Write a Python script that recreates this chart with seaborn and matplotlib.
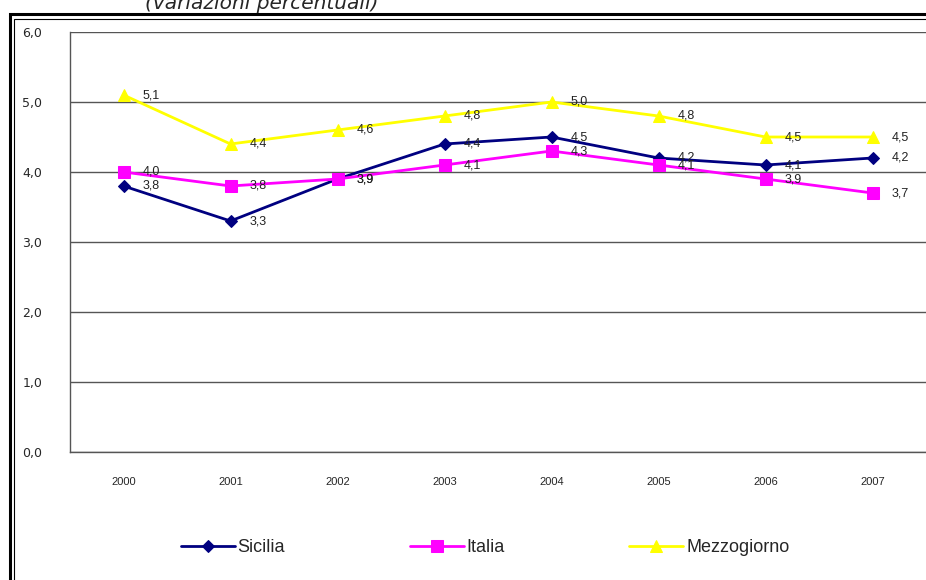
import pandas as pd
import matplotlib
matplotlib.use("Agg")
import matplotlib.pyplot as plt
from matplotlib.patches import Rectangle
import seaborn as sns

# Data
years = ["2000", "2001", "2002", "2003", "2004", "2005", "2006", "2007"]
sicilia = [3.8, 3.3, 3.9, 4.4, 4.5, 4.2, 4.1, 4.2]
italia = [4.0, 3.8, 3.9, 4.1, 4.3, 4.1, 3.9, 3.7]
mezzogiorno = [5.1, 4.4, 4.6, 4.8, 5.0, 4.8, 4.5, 4.5]

series = [
    ("Sicilia", sicilia, "#000080", "D", 6),
    ("Italia", italia, "#FF00FF", "s", 8),
    ("Mezzogiorno", mezzogiorno, "#FFFF00", "^", 8),
]

sns.set_style("white")
plt.rcParams["font.family"] = ["Liberation Sans", "DejaVu Sans"]

W, H = 926, 580
fig = plt.figure(figsize=(W / 100, H / 100), dpi=100)
ax = fig.add_axes([70 / W, 1 - 452 / H, 1 - 70 / W, (452 - 32) / H])

idx = list(range(len(years)))
for name, vals, col, mk, ms in series:
    df = pd.DataFrame({"x": idx, "y": vals})
    sns.lineplot(data=df, x="x", y="y", ax=ax, color=col, marker=mk,
                 markersize=ms, markeredgecolor=col, linewidth=2, label=name)
    for x, v in zip(idx, vals):
        ax.annotate(f"{v:.1f}".replace(".", ","), (x, v), xytext=(14, 0),
                    textcoords="offset points", va="center", ha="left",
                    fontsize=9, color="#222222")

ax.set_xlim(-0.5, 7.5)
ax.set_ylim(0, 6)
ax.set_yticks(range(7))
ax.set_yticklabels([f"{v:.1f}".replace(".", ",") for v in range(7)], fontsize=9,
                   family=["DejaVu Sans"])
ax.set_xticks(idx)
ax.set_xticklabels(years, fontsize=8)
ax.set_xticks([i - 0.5 for i in range(9)], minor=True)
ax.tick_params(axis="x", which="major", length=0, pad=18)
ax.tick_params(axis="x", which="minor", length=5, color="#aaaaaa", direction="out")
ax.tick_params(axis="y", length=7, color="#555555", direction="out", pad=13)
ax.set_xlabel("")
ax.set_ylabel("")
ax.yaxis.grid(True, color="#555555", linewidth=1)
ax.set_axisbelow(True)
for s in ["top", "right"]:
    ax.spines[s].set_visible(False)
for s in ["left", "bottom"]:
    ax.spines[s].set_color("#555555")
    ax.spines[s].set_linewidth(1)

handles, labels = ax.get_legend_handles_labels()
ax.get_legend().remove()
fig.legend(handles, labels, loc="center", bbox_to_anchor=(485 / W, 1 - 548 / H),
           ncol=3, frameon=False, fontsize=13, handlelength=3,
           handletextpad=0.15, columnspacing=6.9)

# double frame around the chart
fig.patches.append(Rectangle((10 / W, -0.1), 1.2, 1 - 14 / H + 0.1,
                             transform=fig.transFigure, fill=False,
                             edgecolor="black", linewidth=2.2))
fig.patches.append(Rectangle((14.5 / W, -0.1), 1.2, 1 - 18.5 / H + 0.1,
                             transform=fig.transFigure, fill=False,
                             edgecolor="black", linewidth=0.8))

fig.text(262 / W, 1 - 9 / H, "(variazioni percentuali)", ha="center", va="baseline",
         fontsize=14.5, style="italic", family=["DejaVu Sans"])

fig.savefig("out.png", dpi=100)
